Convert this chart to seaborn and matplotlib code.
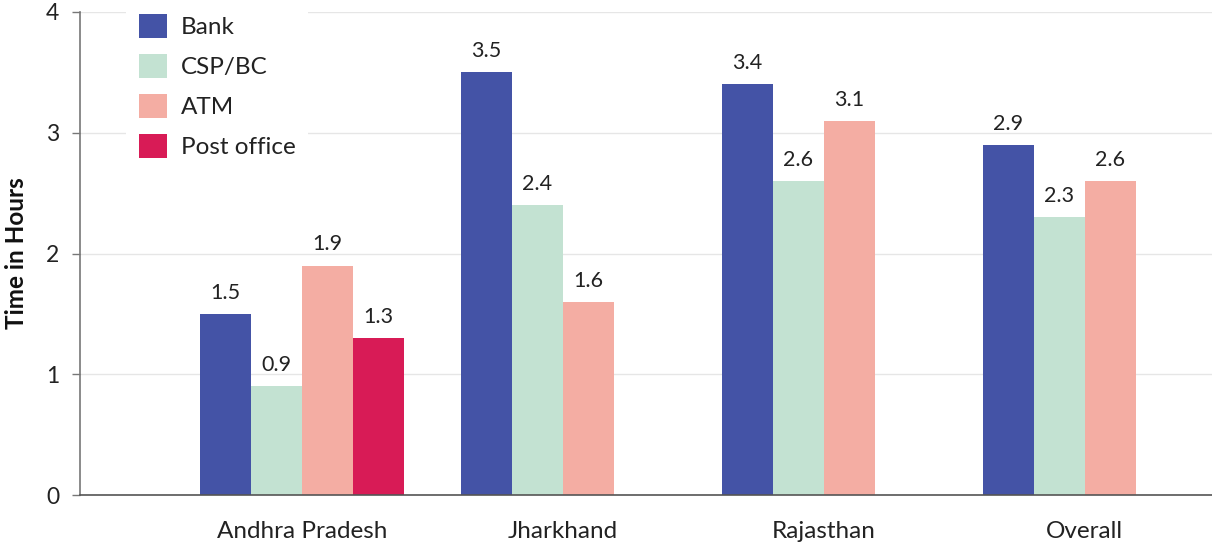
import matplotlib
matplotlib.use("Agg")
import matplotlib.pyplot as plt
import seaborn as sns
import pandas as pd

states = ["Andhra Pradesh", "Jharkhand", "Rajasthan", "Overall"]
series = ["Bank", "CSP/BC", "ATM", "Post office"]
bank = [1.5, 3.5, 3.4, 2.9]
csp_bc = [0.9, 2.4, 2.6, 2.3]
atm = [1.9, 1.6, 3.1, 2.6]
post_office = [1.3, None, None, None]
colors = ["#4453A6", "#C3E2D2", "#F4ADA3", "#D81B56"]
y_ticks = [0, 1, 2, 3, 4]

rows = []
for name, vals in zip(series, [bank, csp_bc, atm, post_office]):
    for st, v in zip(states, vals):
        if v is not None:
            rows.append({"State": st, "Type": name, "Hours": v})
df = pd.DataFrame(rows)

sns.set_theme(style="white")
plt.rcParams["font.family"] = ["Lato", "DejaVu Sans"]

fig = plt.figure(figsize=(12.12, 5.48), dpi=100)
ax = fig.add_axes([80 / 1212, 1 - 495 / 548, 1132 / 1212, 483 / 548])

sns.barplot(data=df, x="State", y="Hours", hue="Type", order=states,
            hue_order=series, palette=colors, width=0.78, errorbar=None,
            linewidth=0, saturation=1, ax=ax)

for cont in ax.containers:
    ax.bar_label(cont, fmt="%.1f", padding=8, fontsize=15.5, color="#222222")

ax.set_ylim(0, 4)
ax.set_xlim(-0.85, 3.487)
ax.set_yticks(y_ticks)
ax.set_yticklabels([str(t) for t in y_ticks])
ax.yaxis.grid(True, color="#e6e6e6", linewidth=1)
ax.set_axisbelow(True)
for s in ["top", "right"]:
    ax.spines[s].set_visible(False)
ax.spines["left"].set_color("#777777")
ax.spines["bottom"].set_color("#555555")
ax.spines["left"].set_linewidth(1.2)
ax.spines["bottom"].set_linewidth(1.2)
ax.tick_params(axis="y", which="both", left=True, length=6, width=1,
               color="#777777", labelsize=16.5, labelcolor="#222222", pad=9)
ax.tick_params(axis="x", length=0, labelsize=17.5, labelcolor="#222222", pad=19)
ax.set_xlabel("")
ax.set_ylabel("Time in Hours", fontsize=17.5, fontweight="bold",
              color="#111111", labelpad=13)

leg = ax.legend(loc="upper left", bbox_to_anchor=(0.041, 1.02),
                frameon=True, facecolor="white", edgecolor="none",
                framealpha=1, fontsize=17.5, handlelength=1.15,
                handleheight=1.1, labelspacing=0.66, handletextpad=0.58,
                borderpad=0.5, borderaxespad=0)
for t in leg.get_texts():
    t.set_color("#222222")

fig.savefig("out.png", dpi=100)
